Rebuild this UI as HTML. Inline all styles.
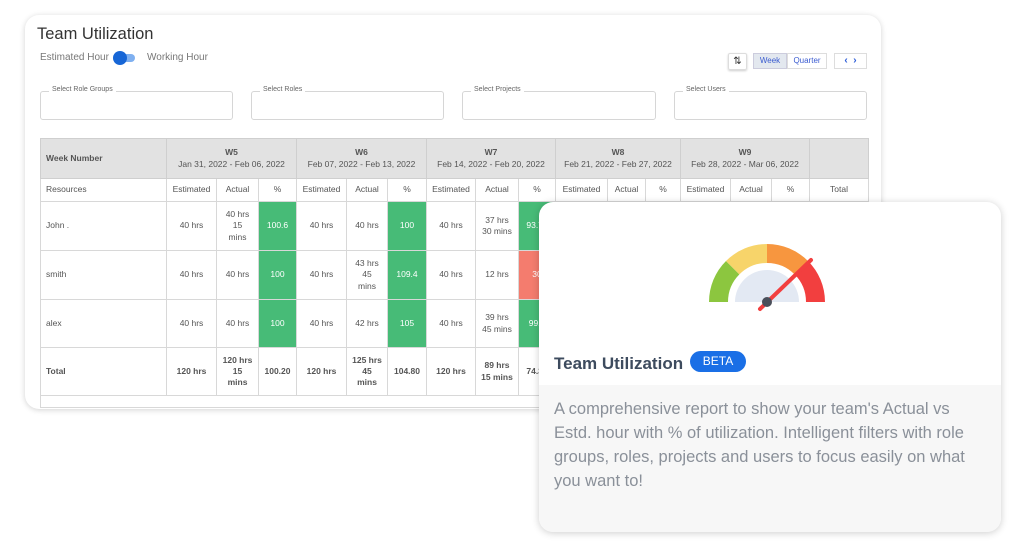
<!DOCTYPE html>
<html><head><meta charset="utf-8"><style>
*{margin:0;padding:0;box-sizing:border-box}
body{width:1024px;height:547px;background:#fff;position:relative;overflow:hidden;font-family:"Liberation Sans",Arial,sans-serif}
.card{position:absolute;left:25px;top:15px;width:856px;height:394px;border-radius:14px;background:#fff;box-shadow:0 1px 6px rgba(0,0,0,.18);overflow:hidden}
.abs{position:absolute}
.fl{position:absolute;top:91px;height:29px;border:1px solid #d6d6d6;border-radius:3px}
.fl span{position:absolute;top:-6px;left:8px;background:#fff;padding:0 3px;font-size:7px;color:#666}
table{position:absolute;left:40px;top:138px;width:828px;border-collapse:collapse;table-layout:fixed;font-size:8.5px;color:#555;text-align:center}
td{border:1px solid #d8d8d8;line-height:1.3}
tr.h td{background:#e2e2e2;font-weight:bold;color:#555;border-color:#cfcfcf}
.g{background:#47bb77;color:#fff}
.r{background:#f47c6e;color:#fff}
td.l{text-align:left;padding-left:5px}
tr.t td{font-weight:bold}
.front{position:absolute;left:539px;top:202px;width:462px;height:330px;border-radius:14px;background:#fff;box-shadow:0 1px 8px rgba(0,0,0,.2);overflow:hidden}
</style></head><body>
<div class="card"></div>
<div class="abs" style="left:37px;top:25px;font-size:16.5px;color:#333">Team Utilization</div>
<div class="abs" style="left:40px;top:52px;font-size:10px;color:#777">Estimated Hour</div>
<div class="abs" style="left:115px;top:54px;width:20px;height:8px;border-radius:4px;background:#7fb0f0"></div>
<div class="abs" style="left:113px;top:51px;width:14px;height:14px;border-radius:7px;background:#1766d6"></div>
<div class="abs" style="left:147px;top:52px;font-size:10px;color:#777">Working Hour</div>
<div class="abs" style="left:728px;top:53px;width:19px;height:17px;border:1px solid #ddd;border-radius:2px;box-shadow:0 1px 2px rgba(0,0,0,.2);font-size:10px;text-align:center;line-height:15px;color:#333">⇅</div>
<div class="abs" style="left:753px;top:53px;width:34px;height:16px;border:1px solid #ccd;background:#e3e8ef;font-size:8px;color:#3a5bd0;text-align:center;line-height:14px">Week</div>
<div class="abs" style="left:787px;top:53px;width:40px;height:16px;border:1px solid #ddd;font-size:8px;color:#3a5bd0;text-align:center;line-height:14px">Quarter</div>
<div class="abs" style="left:834px;top:53px;width:33px;height:16px;border:1px solid #ddd;font-size:10px;color:#2a5bd8;text-align:center;line-height:14px;font-weight:bold">‹ &nbsp;›</div>
<div class="fl" style="left:40px;width:193px"><span>Select Role Groups</span></div>
<div class="fl" style="left:251px;width:193px"><span>Select Roles</span></div>
<div class="fl" style="left:462px;width:194px"><span>Select Projects</span></div>
<div class="fl" style="left:674px;width:193px"><span>Select Users</span></div>
<table>
<colgroup><col style="width:126px"><col style="width:50px"><col style="width:42px"><col style="width:38px"><col style="width:50px"><col style="width:41px"><col style="width:39px"><col style="width:49px"><col style="width:43px"><col style="width:37px"><col style="width:52px"><col style="width:38px"><col style="width:35px"><col style="width:50px"><col style="width:41px"><col style="width:38px"><col style="width:59px"></colgroup>
<tr class="h" style="height:40px"><td class="l">Week Number</td><td colspan="3">W5<br><span style="font-weight:normal">Jan 31, 2022 - Feb 06, 2022</span></td><td colspan="3">W6<br><span style="font-weight:normal">Feb 07, 2022 - Feb 13, 2022</span></td><td colspan="3">W7<br><span style="font-weight:normal">Feb 14, 2022 - Feb 20, 2022</span></td><td colspan="3">W8<br><span style="font-weight:normal">Feb 21, 2022 - Feb 27, 2022</span></td><td colspan="3">W9<br><span style="font-weight:normal">Feb 28, 2022 - Mar 06, 2022</span></td><td></td></tr>
<tr style="height:23px"><td class="l">Resources</td><td>Estimated</td><td>Actual</td><td>%</td><td>Estimated</td><td>Actual</td><td>%</td><td>Estimated</td><td>Actual</td><td>%</td><td>Estimated</td><td>Actual</td><td>%</td><td>Estimated</td><td>Actual</td><td>%</td><td>Total</td></tr>
<tr style="height:49px"><td class="l">John .</td><td>40 hrs</td><td>40 hrs<br>15<br>mins</td><td class="g">100.6</td><td>40 hrs</td><td>40 hrs</td><td class="g">100</td><td>40 hrs</td><td>37 hrs<br>30 mins</td><td class="g">93.75</td><td></td><td></td><td></td><td></td><td></td><td></td><td></td></tr>
<tr style="height:49px"><td class="l">smith</td><td>40 hrs</td><td>40 hrs</td><td class="g">100</td><td>40 hrs</td><td>43 hrs<br>45<br>mins</td><td class="g">109.4</td><td>40 hrs</td><td>12 hrs</td><td class="r">30</td><td></td><td></td><td></td><td></td><td></td><td></td><td></td></tr>
<tr style="height:48px"><td class="l">alex</td><td>40 hrs</td><td>40 hrs</td><td class="g">100</td><td>40 hrs</td><td>42 hrs</td><td class="g">105</td><td>40 hrs</td><td>39 hrs<br>45 mins</td><td class="g">99.4</td><td></td><td></td><td></td><td></td><td></td><td></td><td></td></tr>
<tr class="t" style="height:48px"><td class="l">Total</td><td>120 hrs</td><td>120 hrs<br>15<br>mins</td><td>100.20</td><td>120 hrs</td><td>125 hrs<br>45<br>mins</td><td>104.80</td><td>120 hrs</td><td>89 hrs<br>15 mins</td><td>74.38</td><td></td><td></td><td></td><td></td><td></td><td></td><td></td></tr>
<tr style="height:12px"><td colspan="17"></td></tr>
</table>
<div class="front">
<div class="abs" style="left:0;top:183px;width:462px;height:147px;background:#f7f7f7"></div>
<svg class="abs" style="left:0;top:0" width="462" height="140">
<g transform="translate(228,100)">
<path d="M-58 0 A58 58 0 0 1 -41 -41 L-27.6 -27.6 A39 39 0 0 0 -39 0Z" fill="#8cc63f"/>
<path d="M-41 -41 A58 58 0 0 1 0 -58 L0 -39 A39 39 0 0 0 -27.6 -27.6Z" fill="#f7d46a"/>
<path d="M0 -58 A58 58 0 0 1 41 -41 L27.6 -27.6 A39 39 0 0 0 0 -39Z" fill="#f7963f"/>
<path d="M41 -41 A58 58 0 0 1 58 0 L39 0 A39 39 0 0 0 27.6 -27.6Z" fill="#f23f3f"/>
<path d="M-32 0 A32 32 0 0 1 32 0Z" fill="#e3e9f3"/>
<line x1="-7" y1="7" x2="44" y2="-42" stroke="#f23f3f" stroke-width="4" stroke-linecap="round"/>
<circle cx="0" cy="0" r="5" fill="#4a4f5a"/>
</g></svg>
<div class="abs" style="left:15px;top:152px;font-size:17px;font-weight:bold;color:#3d4b5e">Team Utilization</div>
<div class="abs" style="left:151px;top:149px;width:56px;height:21px;border-radius:11px;background:#1a6fe6;color:#fff;font-size:12px;text-align:center;line-height:21px">BETA</div>
<div class="abs" style="left:15px;top:195px;width:425px;font-size:16.5px;line-height:24px;color:#8a9099">A comprehensive report to show your team's Actual vs Estd. hour with % of utilization. Intelligent filters with role groups, roles, projects and users to focus easily on what you want to!</div>
</div>
</body></html>
